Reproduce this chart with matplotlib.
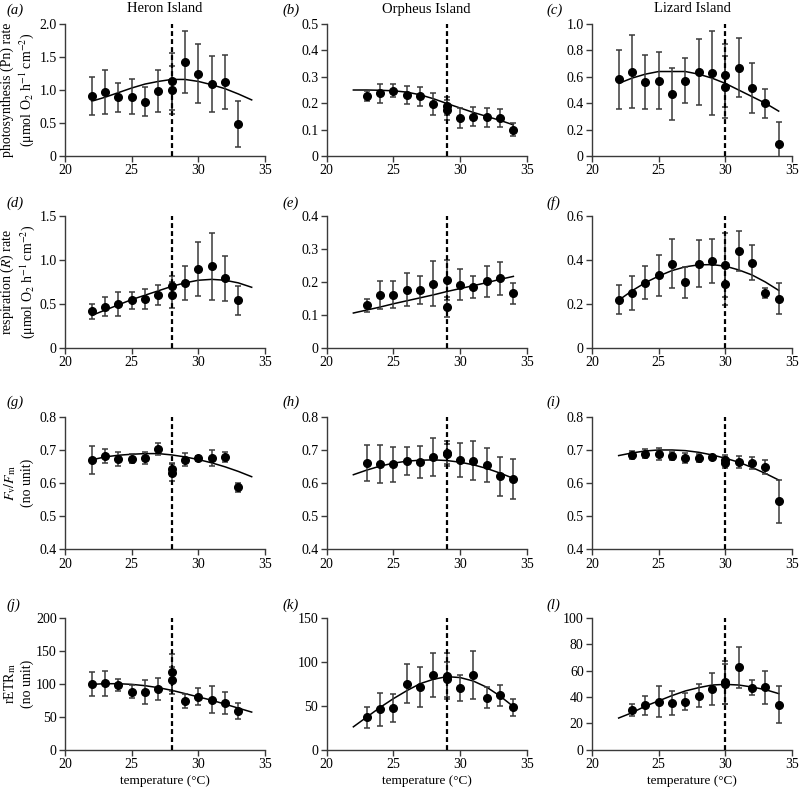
import numpy as np
import matplotlib
matplotlib.use("Agg")
from matplotlib import pyplot as plt

plt.rcParams['font.family'] = ['Liberation Serif', 'DejaVu Serif']
plt.rcParams['mathtext.fontset'] = 'stix'

# temperatures of the measured points (the switch temperature appears twice)
heron_t = [22, 23, 24, 25, 26, 27, 28, 28, 29, 30, 31, 32, 33]
orpheus_t = [23, 24, 25, 26, 27, 28, 29, 29, 30, 31, 32, 33, 34]
lizard_t = [22, 23, 24, 25, 26, 27, 28, 29, 30, 30, 31, 32, 33, 34]
lizard_t2 = [23, 24, 25, 26, 27, 28, 29, 30, 30, 31, 32, 33, 34]
fit_t = [22, 23, 24, 25, 26, 27, 28, 29, 30, 31, 32, 33, 34]
site_temp = [28, 29, 30]
sites = ["Heron Island", "Orpheus Island", "Lizard Island"]

# photosynthesis
pn_heron = [0.91, 0.97, 0.89, 0.90, 0.82, 0.98, 1.13, 1.00, 1.43, 1.25, 1.09, 1.12, 0.48]
pn_heron_err = [0.29, 0.33, 0.22, 0.27, 0.22, 0.32, 0.43, 0.36, 0.47, 0.45, 0.43, 0.41, 0.35]
pn_heron_fit = [0.83, 0.89, 0.96, 1.03, 1.09, 1.13, 1.16, 1.16, 1.13, 1.08, 1.02, 0.94, 0.85]
pn_orph = [0.226, 0.237, 0.247, 0.230, 0.226, 0.198, 0.190, 0.175, 0.143, 0.149, 0.147, 0.144, 0.100]
pn_orph_err = [0.019, 0.035, 0.024, 0.034, 0.036, 0.042, 0.034, 0.037, 0.038, 0.037, 0.036, 0.034, 0.024]
pn_orph_fit = [0.250, 0.250, 0.249, 0.247, 0.242, 0.232, 0.217, 0.199, 0.182, 0.165, 0.150, 0.135, 0.118]
pn_liz = [0.58, 0.64, 0.56, 0.57, 0.47, 0.57, 0.64, 0.63, 0.61, 0.525, 0.67, 0.515, 0.40, 0.09]
pn_liz_err = [0.225, 0.277, 0.203, 0.215, 0.2, 0.17, 0.25, 0.32, 0.235, 0.235, 0.224, 0.188, 0.11, 0.166]
pn_liz_fit = [0.55, 0.59, 0.62, 0.64, 0.64, 0.64, 0.62, 0.59, 0.55, 0.50, 0.45, 0.40, 0.34]

# respiration
r_heron = [0.42, 0.47, 0.50, 0.54, 0.56, 0.60, 0.71, 0.60, 0.74, 0.90, 0.93, 0.79, 0.54]
r_heron_err = [0.085, 0.105, 0.135, 0.10, 0.115, 0.115, 0.11, 0.15, 0.19, 0.31, 0.38, 0.26, 0.16]
r_heron_fit = [0.37, 0.43, 0.49, 0.55, 0.60, 0.65, 0.70, 0.74, 0.77, 0.78, 0.77, 0.74, 0.69]
r_orph = [0.130, 0.160, 0.162, 0.176, 0.176, 0.195, 0.206, 0.125, 0.192, 0.186, 0.202, 0.211, 0.166]
r_orph_err = [0.020, 0.042, 0.041, 0.050, 0.042, 0.068, 0.062, 0.031, 0.047, 0.033, 0.048, 0.049, 0.032]
r_orph_fit = [0.106, 0.115, 0.124, 0.134, 0.143, 0.152, 0.161, 0.171, 0.180, 0.189, 0.198, 0.208, 0.217]
r_liz = [0.22, 0.25, 0.297, 0.33, 0.384, 0.298, 0.384, 0.396, 0.376, 0.289, 0.442, 0.388, 0.251, 0.224]
r_liz_err = [0.066, 0.077, 0.075, 0.094, 0.11, 0.071, 0.107, 0.099, 0.145, 0.095, 0.092, 0.08, 0.024, 0.07]
r_liz_fit = [0.217, 0.260, 0.297, 0.327, 0.352, 0.369, 0.378, 0.379, 0.372, 0.355, 0.332, 0.300, 0.262]

# Fv/Fm
fv_heron = [0.670, 0.683, 0.673, 0.675, 0.678, 0.705, 0.642, 0.632, 0.672, 0.676, 0.676, 0.681, 0.588]
fv_heron_err = [0.043, 0.020, 0.021, 0.013, 0.018, 0.018, 0.021, 0.026, 0.020, 0.007, 0.024, 0.015, 0.013]
fv_heron_fit = [0.671, 0.680, 0.685, 0.688, 0.690, 0.690, 0.686, 0.680, 0.672, 0.662, 0.650, 0.636, 0.620]
fv_orph = [0.662, 0.658, 0.658, 0.668, 0.665, 0.679, 0.691, 0.688, 0.670, 0.668, 0.656, 0.622, 0.614]
fv_orph_err = [0.054, 0.058, 0.053, 0.043, 0.048, 0.058, 0.038, 0.030, 0.051, 0.059, 0.052, 0.059, 0.061]
fv_orph_fit = [0.626, 0.640, 0.652, 0.661, 0.667, 0.670, 0.671, 0.669, 0.664, 0.656, 0.645, 0.631, 0.615]
fv_liz = [0.686, 0.690, 0.688, 0.683, 0.678, 0.678, 0.680, 0.670, 0.663, 0.664, 0.661, 0.650, 0.545]
fv_liz_err = [0.012, 0.013, 0.018, 0.011, 0.015, 0.012, 0.007, 0.015, 0.018, 0.019, 0.019, 0.021, 0.065]
fv_liz_fit = [0.684, 0.692, 0.698, 0.701, 0.701, 0.699, 0.694, 0.686, 0.676, 0.664, 0.648, 0.630, 0.610]

# rETRm
etr_heron = [100, 101, 98, 88, 88, 92, 117, 105, 74, 80, 76, 71, 59]
etr_heron_err = [18, 19, 9, 10, 18, 16, 28, 20, 11, 13, 20, 17, 12]
etr_heron_fit = [99, 100, 100, 99, 97, 94, 90, 85, 80, 75, 69, 63, 57]
etr_orph = [37, 46, 47, 75, 71, 85, 84, 80, 70, 85, 59, 62, 48]
etr_orph_err = [12, 19, 16, 22, 23, 25, 26, 20, 15, 27, 12, 12, 10]
etr_orph_fit = [26, 37, 48, 58, 67, 75, 80, 83, 82, 78, 71, 61, 49]
etr_liz = [30, 33.5, 36.5, 35.5, 36.5, 41, 46, 51, 50, 62.5, 47, 47.5, 34]
etr_liz_err = [4.5, 7.5, 11.5, 9, 6.5, 8.5, 12, 16, 15, 15.5, 5.5, 12.5, 14]
etr_liz_fit = [24, 28, 33, 37, 41, 44.5, 47, 49, 49.5, 49, 47.5, 45.5, 42.5]

panels = [
    [(heron_t, pn_heron, pn_heron_err, pn_heron_fit, 2.0, 0.5),
     (orpheus_t, pn_orph, pn_orph_err, pn_orph_fit, 0.5, 0.1),
     (lizard_t, pn_liz, pn_liz_err, pn_liz_fit, 1.0, 0.2)],
    [(heron_t, r_heron, r_heron_err, r_heron_fit, 1.5, 0.5),
     (orpheus_t, r_orph, r_orph_err, r_orph_fit, 0.4, 0.1),
     (lizard_t, r_liz, r_liz_err, r_liz_fit, 0.6, 0.2)],
    [(heron_t, fv_heron, fv_heron_err, fv_heron_fit, 0.8, 0.1),
     (orpheus_t, fv_orph, fv_orph_err, fv_orph_fit, 0.8, 0.1),
     (lizard_t2, fv_liz, fv_liz_err, fv_liz_fit, 0.8, 0.1)],
    [(heron_t, etr_heron, etr_heron_err, etr_heron_fit, 200, 50),
     (orpheus_t, etr_orph, etr_orph_err, etr_orph_fit, 150, 50),
     (lizard_t2, etr_liz, etr_liz_err, etr_liz_fit, 100, 20)],
]
ylabels = ["photosynthesis (Pn) rate\n(μmol O$_2$ h$^{-1}$ cm$^{-2}$)",
           "respiration ($R$) rate\n(μmol O$_2$ h$^{-1}$ cm$^{-2}$)",
           "$F_{\\mathrm{v}}/F_{\\mathrm{m}}$\n(no unit)",
           "rETR$_{\\mathrm{m}}$\n(no unit)"]
letters = "abcdefghijkl"

W, H = 799, 789
fig = plt.figure(figsize=(W / 100, H / 100), dpi=100)
lefts = [65, 326.7, 592]
tops = [24, 216, 417.3, 617.7]
aw, ah = 200, 132
letter_x = [6, 282, 546]
letter_y = [10, 203, 402, 605]
grey = '#3a3a3a'

for r in range(4):
    for c in range(3):
        t, m, e, f, ymax, step = panels[r][c]
        ax = fig.add_axes([lefts[c] / W, 1 - (tops[r] + ah) / H, aw / W, ah / H])
        ymin = 0.4 if r == 2 else 0
        ax.plot(fit_t, f, color='black', lw=1.1, zorder=2)
        ax.errorbar(t, m, yerr=e, fmt='o', color='black', ms=5.5,
                    ecolor=grey, elinewidth=1.1, capsize=2.5, capthick=1.1, zorder=3)
        ax.plot([site_temp[c], site_temp[c]], [ymin, ymax], color='black',
                lw=1.6, ls=(0, (2.2, 1.4)), zorder=4)
        ax.set_xlim(20, 35)
        ax.set_ylim(ymin, ymax)
        ax.set_xticks([20, 25, 30, 35])
        yt = np.arange(ymin, ymax + step / 2, step)
        ax.set_yticks(yt)
        if r < 3:
            ax.set_yticklabels(['0' if abs(v) < 1e-9 else f'{v:.1f}' for v in yt])
        else:
            ax.set_yticklabels([f'{v:.0f}' for v in yt])
        for s in ['top', 'right']:
            ax.spines[s].set_visible(False)
        for s in ['left', 'bottom']:
            ax.spines[s].set_color(grey)
            ax.spines[s].set_linewidth(1.0)
        ax.tick_params(direction='out', length=4, width=1.0, color=grey,
                       labelsize=10, pad=2)
        fig.text(letter_x[c] / W, 1 - letter_y[r] / H, f'({letters[r * 3 + c]})',
                 fontsize=10.5, style='italic', ha='left', va='center')
        if r == 0:
            fig.text((lefts[c] + aw / 2) / W, 1 - 9 / H, sites[c], fontsize=10.5,
                     ha='center', va='center')
        if r == 3:
            fig.text((lefts[c] + aw / 2) / W, 1 - 781 / H, 'temperature (°C)',
                     fontsize=9.5, ha='center', va='center')
    fig.text(18 / W, 1 - (tops[r] + ah / 2) / H, ylabels[r], rotation=90,
             fontsize=10, ha='center', va='center', multialignment='center')

fig.savefig('out.png', dpi=100)
